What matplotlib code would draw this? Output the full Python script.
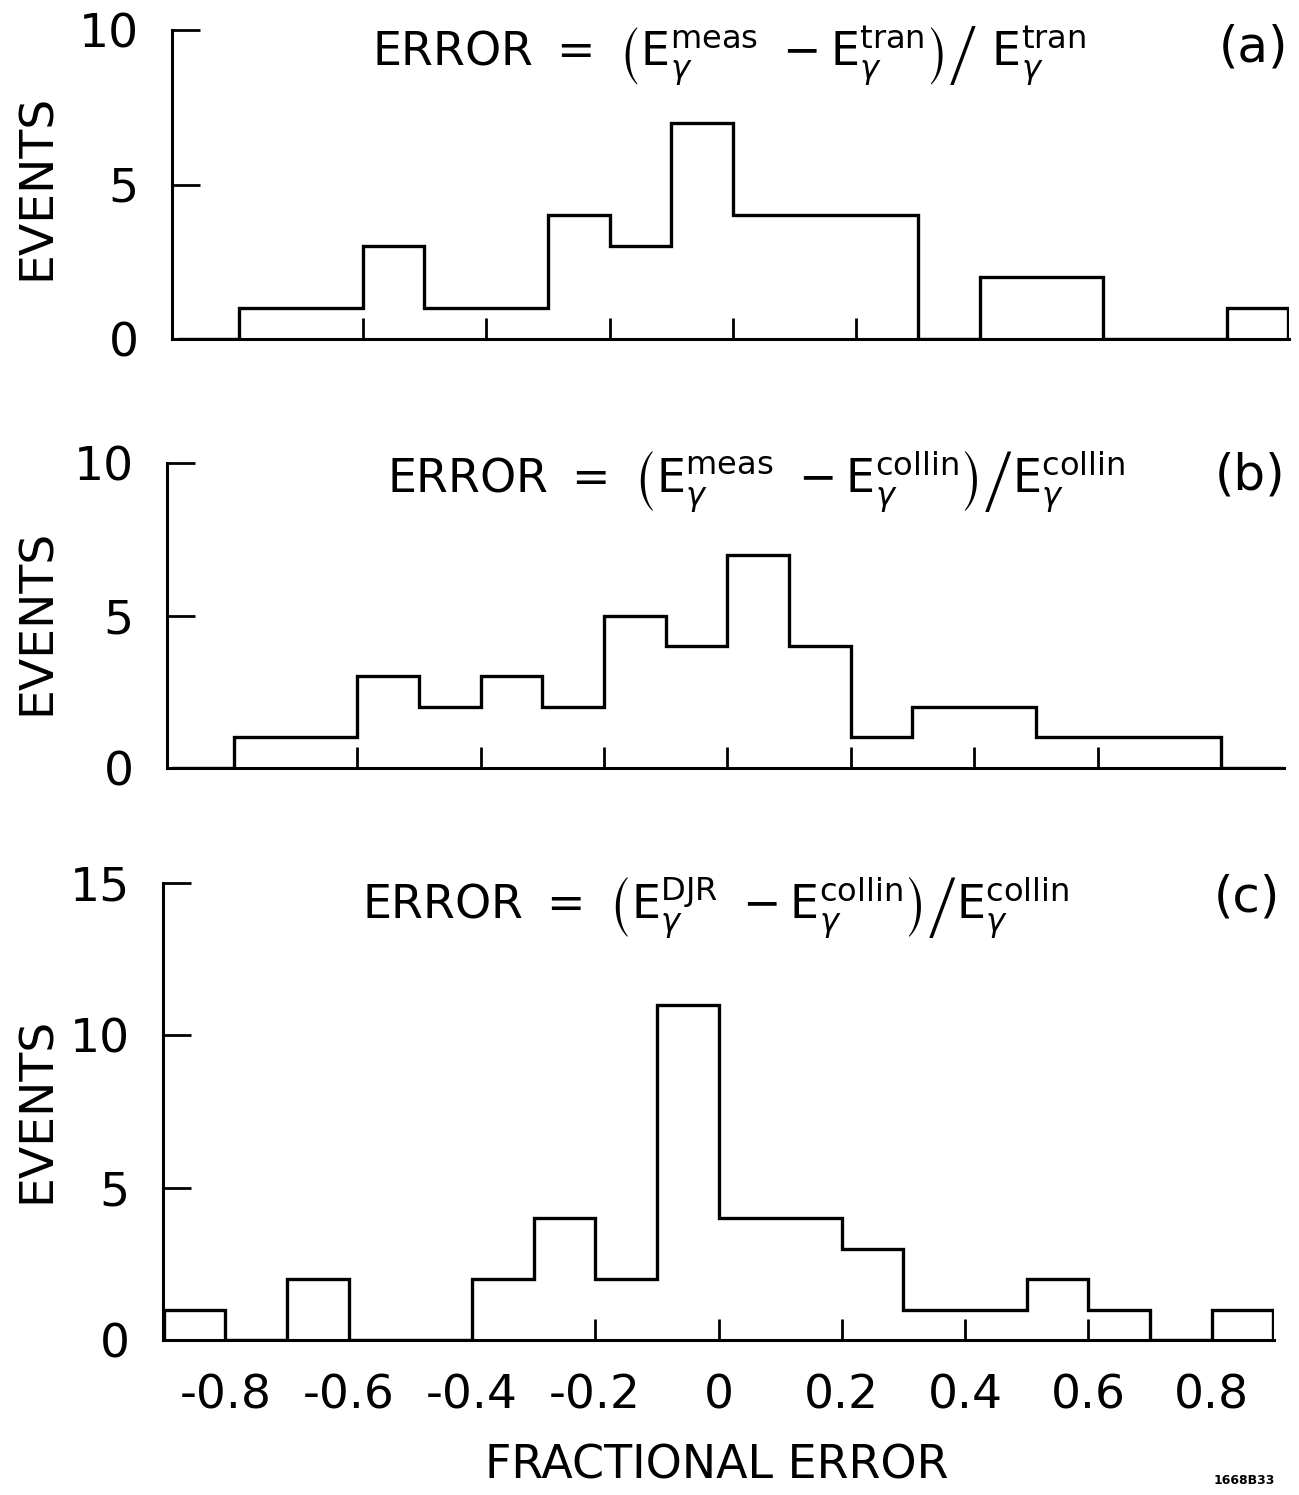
import numpy as np
import matplotlib
matplotlib.use("Agg")
import matplotlib.pyplot as plt

# ---- data (bin counts, bins of width 0.1 from -0.9 to 0.9) ----
bin_edges = np.round(np.arange(-0.9, 0.9001, 0.1), 2)
counts_a = [0, 1, 1, 3, 1, 1, 4, 3, 7, 4, 4, 4, 0, 2, 2, 0, 0, 1]
counts_b = [0, 1, 1, 3, 2, 3, 2, 5, 4, 7, 4, 1, 2, 2, 1, 1, 1, 0]
counts_c = [1, 0, 2, 0, 0, 2, 4, 2, 11, 4, 4, 3, 1, 1, 2, 1, 0, 1]
xtick_values = [-0.8, -0.6, -0.4, -0.2, 0, 0.2, 0.4, 0.6, 0.8]
xtick_labels = ["-0.8", "-0.6", "-0.4", "-0.2", "0", "0.2", "0.4", "0.6", "0.8"]
yticks_ab = [0, 5, 10]
yticks_c = [0, 5, 10, 15]
titles = [
    r"ERROR $=\ \left(\mathrm{E}_{\gamma}^{\mathrm{meas}}\ -\mathrm{E}_{\gamma}^{\mathrm{tran}}\right)\left/\ \mathrm{E}_{\gamma}^{\mathrm{tran}}\right.$",
    r"ERROR $=\ \left(\mathrm{E}_{\gamma}^{\mathrm{meas}}\ -\mathrm{E}_{\gamma}^{\mathrm{collin}}\right)\left/\mathrm{E}_{\gamma}^{\mathrm{collin}}\right.$",
    r"ERROR $=\ \left(\mathrm{E}_{\gamma}^{\mathrm{DJR}}\ -\mathrm{E}_{\gamma}^{\mathrm{collin}}\right)\left/\mathrm{E}_{\gamma}^{\mathrm{collin}}\right.$",
]
panel_labels = ["(a)", "(b)", "(c)"]

plt.rcParams["font.family"] = ["DejaVu Sans"]
plt.rcParams["mathtext.fontset"] = "dejavusans"
plt.rcParams["axes.unicode_minus"] = False

W, H = 1299, 1495
fig = plt.figure(figsize=(W / 100, H / 100), dpi=100)


def add_px_axes(left, top, right, bottom):
    return fig.add_axes([left / W, 1 - bottom / H, (right - left) / W, (bottom - top) / H])


# layout in pixels: (left, top, right, bottom), xlim, ylim
layouts = [
    ((172, 30, 1289, 339), (-0.909, 0.901), (0, 10)),
    ((167, 463, 1284, 768), (-0.908, 0.902), (0, 10)),
    ((163, 883, 1274, 1340), (-0.901, 0.901), (0, 15)),
]
all_counts = [counts_a, counts_b, counts_c]
title_pos = [(372, 66), (387, 493), (362, 919)]
label_pos = [(1288, 62), (1285, 490), (1280, 912)]
ylabel_y = [187, 622, 1110]

lw = 2.4
for i, ((l, t, r, b), xl, yl) in enumerate(layouts):
    ax = add_px_axes(l, t, r, b)
    ax.stairs(all_counts[i], bin_edges, baseline=0, color="black", linewidth=lw)
    ax.set_xlim(*xl)
    ax.set_ylim(*yl)
    for s in ("top", "right"):
        ax.spines[s].set_visible(False)
    for s in ("left", "bottom"):
        ax.spines[s].set_linewidth(2.2)
    ax.set_xticks(xtick_values)
    ax.set_yticks(yticks_c if i == 2 else yticks_ab)
    ax.tick_params(axis="x", direction="in", length=15, width=2.0,
                   labelsize=34, pad=24, labelbottom=(i == 2))
    ax.tick_params(axis="y", direction="in", length=20, width=2.0,
                   labelsize=34, pad=24)
    if i == 2:
        ax.set_xticklabels(xtick_labels)
    ax.patch.set_alpha(0)
    fig.text(title_pos[i][0] / W, 1 - title_pos[i][1] / H, titles[i],
             fontsize=33, ha="left", va="baseline")
    fig.text(label_pos[i][0] / W, 1 - label_pos[i][1] / H, panel_labels[i],
             fontsize=36, ha="right", va="baseline")
    fig.text(37 / W, 1 - ylabel_y[i] / H, "EVENTS", fontsize=34,
             rotation=90, ha="center", va="center")

fig.text(717 / W, 1 - 1466 / H, "FRACTIONAL ERROR", fontsize=33,
         ha="center", va="center")
fig.text(1244 / W, 1 - 1481 / H, "1668B33", fontsize=9, fontweight="bold",
         ha="center", va="center")

fig.savefig("out.png", dpi=100, facecolor="white")
